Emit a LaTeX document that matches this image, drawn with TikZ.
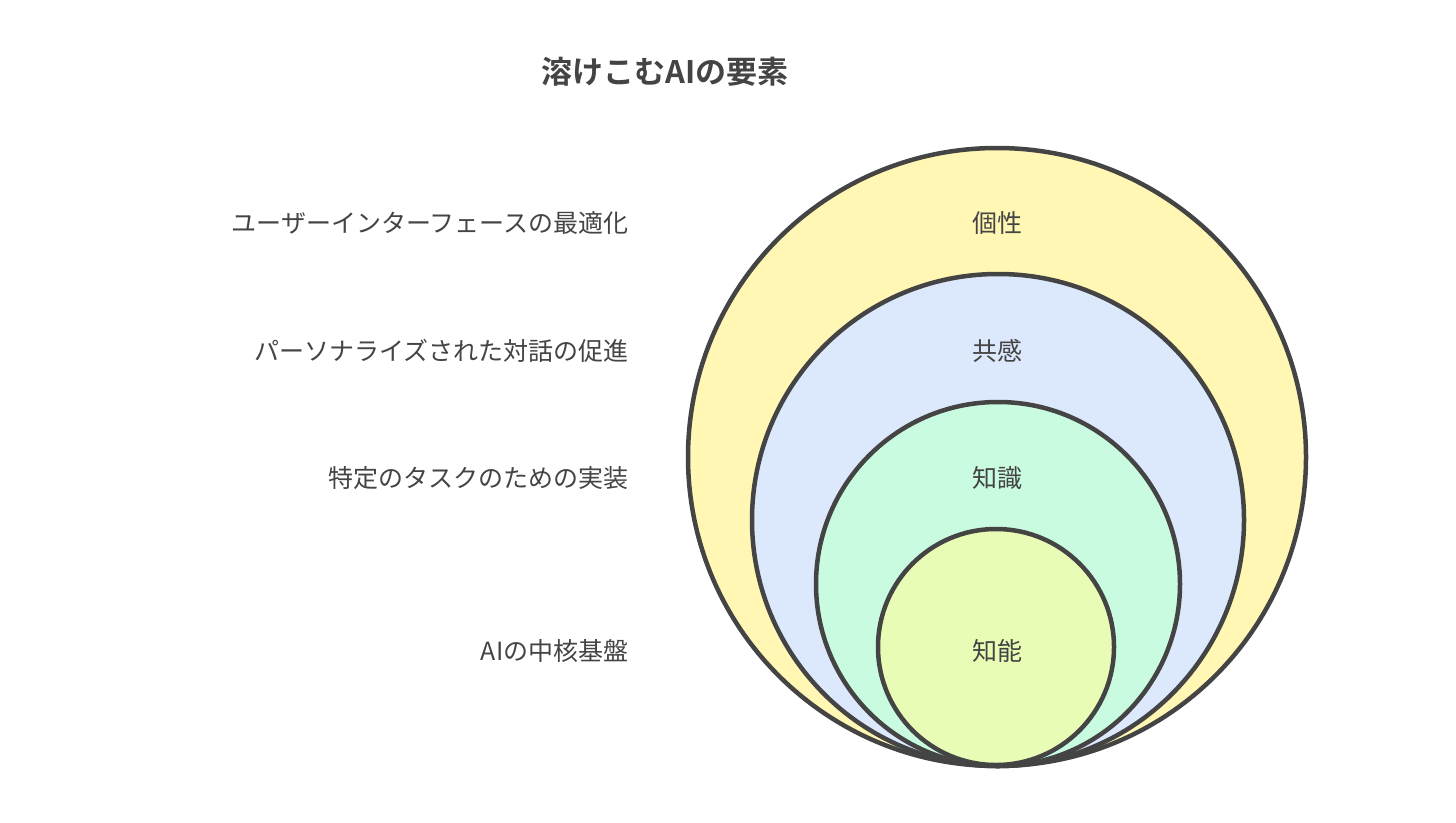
\documentclass[tikz,border=0pt]{standalone}
\usepackage{fontspec}
\newfontfamily\jp{Noto Sans CJK JP}
\newfontfamily\jpb{Noto Sans CJK JP Bold}
\definecolor{cy}{HTML}{FFF7B3}
\definecolor{cb}{HTML}{DCE8FC}
\definecolor{cg}{HTML}{C9FBE0}
\definecolor{cl}{HTML}{E9FCB5}
\definecolor{ln}{HTML}{444444}
\begin{document}
\begin{tikzpicture}[x=1pt,y=-1pt,
  ring/.style={draw=ln,line width=4.5pt},
  lab/.style={font=\jp\fontsize{25}{30}\selectfont,text=ln,anchor=east},
  clab/.style={font=\jp\fontsize{25}{30}\selectfont,text=ln}]
\useasboundingbox[fill=white] (0,0) rectangle (1456,822);
\node[font=\jpb\fontsize{31}{36}\selectfont,text=ln] (title) at (665,72) {溶けこむAIの要素};
\path[ring,fill=cy] (997,457) circle (309);
\path[ring,fill=cb] (998,520) circle (246);
\path[ring,fill=cg] (998,584) circle (182);
\path[ring,fill=cl] (996,647) circle (118);
\node[clab] (c1) at (997,223) {個性};
\node[clab] (c2) at (997,351) {共感};
\node[clab] (c3) at (997,478) {知識};
\node[clab] (c4) at (997,651) {知能};
\node[lab] (l1) at (632,223) {ユーザーインターフェースの最適化};
\node[lab] (l2) at (632,351) {パーソナライズされた対話の促進};
\node[lab] (l3) at (632,478) {特定のタスクのための実装};
\node[lab] (l4) at (632,651) {AIの中核基盤};
\end{tikzpicture}
\end{document}
